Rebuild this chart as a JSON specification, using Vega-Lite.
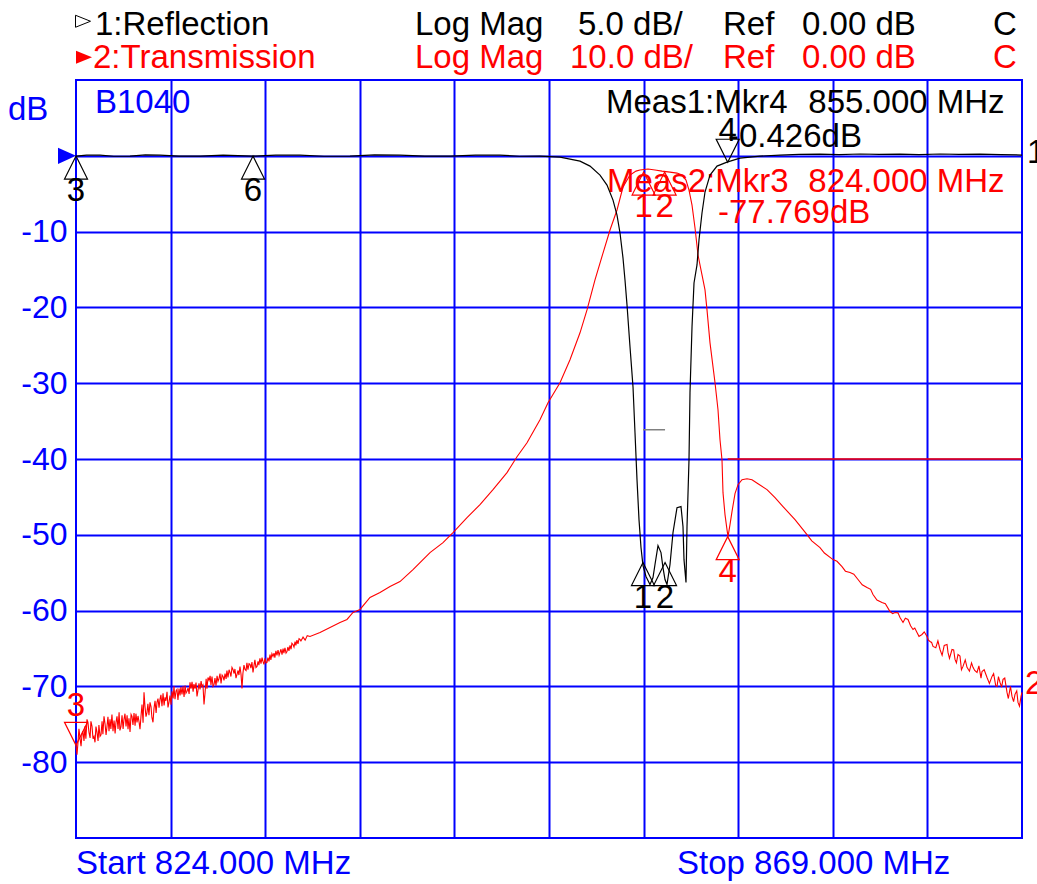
{
  "$schema": "https://vega.github.io/schema/vega-lite/v6.json",
  "width": 946,
  "height": 758,
  "autosize": {"type": "none"},
  "padding": {"left": 76, "top": 80, "right": 15, "bottom": 46},
  "background": "white",
  "config": {
    "view": {"stroke": "#0000ff", "strokeWidth": 2},
    "text": {"font": "Liberation Sans", "fontSize": 33},
    "axis": {"labelFont": "Liberation Sans"}
  },
  "datasets": {
    "reflection": [
      {"f": 824.000, "db": -0.02}, {"f": 824.5, "db": 0.04}, {"f": 825.142, "db": 0.05}, {"f": 825.8, "db": -0.03},
      {"f": 826.569, "db": -0.02}, {"f": 827.3, "db": 0.06}, {"f": 827.996, "db": 0.05}, {"f": 828.9, "db": -0.02},
      {"f": 829.899, "db": -0.02}, {"f": 831.0, "db": 0.04}, {"f": 832.420, "db": -0.02}, {"f": 833.5, "db": 0.05},
      {"f": 834.655, "db": 0.05}, {"f": 835.8, "db": -0.03}, {"f": 837.034, "db": -0.02}, {"f": 838.2, "db": 0.06},
      {"f": 839.412, "db": 0.05}, {"f": 840.6, "db": -0.02}, {"f": 841.791, "db": -0.02}, {"f": 843.0, "db": 0.04},
      {"f": 844.169, "db": 0.05}, {"f": 845.1, "db": -0.03}, {"f": 846.072, "db": -0.02}, {"f": 847.023, "db": -0.09},
      {"f": 847.975, "db": -0.35}, {"f": 848.450, "db": -0.68}, {"f": 848.926, "db": -1.27}, {"f": 849.259, "db": -1.93},
      {"f": 849.545, "db": -2.92}, {"f": 849.735, "db": -3.91}, {"f": 849.878, "db": -5.09}, {"f": 850.020, "db": -6.74},
      {"f": 850.115, "db": -8.19}, {"f": 850.210, "db": -9.83}, {"f": 850.353, "db": -12.60}, {"f": 850.496, "db": -15.24},
      {"f": 850.591, "db": -18.27}, {"f": 850.686, "db": -21.36}, {"f": 850.781, "db": -24.00}, {"f": 850.876, "db": -25.84},
      {"f": 850.971, "db": -27.03}, {"f": 851.114, "db": -27.75}, {"f": 851.304, "db": -28.28}, {"f": 851.447, "db": -27.82},
      {"f": 851.542, "db": -26.96}, {"f": 851.685, "db": -25.71}, {"f": 851.827, "db": -26.17}, {"f": 851.922, "db": -27.16},
      {"f": 852.018, "db": -27.95}, {"f": 852.113, "db": -28.28}, {"f": 852.256, "db": -26.96}, {"f": 852.399, "db": -24.85},
      {"f": 852.589, "db": -23.21}, {"f": 852.779, "db": -23.14}, {"f": 852.874, "db": -24.46}, {"f": 852.922, "db": -26.64},
      {"f": 853.017, "db": -28.15}, {"f": 853.065, "db": -24.46}, {"f": 853.160, "db": -20.05}, {"f": 853.207, "db": -15.63},
      {"f": 853.303, "db": -11.28}, {"f": 853.398, "db": -8.39}, {"f": 853.540, "db": -7.20}, {"f": 853.635, "db": -5.55},
      {"f": 853.778, "db": -3.77}, {"f": 853.921, "db": -2.39}, {"f": 854.159, "db": -1.27}, {"f": 854.492, "db": -0.68},
      {"f": 854.967, "db": -0.42}, {"f": 855.586, "db": -0.15}, {"f": 856.537, "db": -0.02}, {"f": 857.489, "db": 0.05},
      {"f": 858.4, "db": 0.09}, {"f": 859.391, "db": 0.11}, {"f": 860.3, "db": 0.08}, {"f": 861.294, "db": 0.12},
      {"f": 862.2, "db": 0.09}, {"f": 863.197, "db": 0.11}, {"f": 864.1, "db": 0.08}, {"f": 865.100, "db": 0.12},
      {"f": 866.0, "db": 0.09}, {"f": 867.002, "db": 0.11}, {"f": 868.0, "db": 0.08}, {"f": 869.000, "db": 0.05}
    ],
    "transmission": [
      {"f": 824.000, "db": -77.77}, {"f": 824.048, "db": -79.0}, {"f": 824.095, "db": -77.38}, {"f": 824.190, "db": -76.8},
      {"f": 824.285, "db": -76.32}, {"f": 824.380, "db": -77.2}, {"f": 824.428, "db": -75.27}, {"f": 824.523, "db": -74.34},
      {"f": 824.618, "db": -76.06}, {"f": 824.761, "db": -75.27}, {"f": 824.856, "db": -76.6}, {"f": 824.904, "db": -77.38},
      {"f": 824.999, "db": -76.06}, {"f": 825.142, "db": -76.59}, {"f": 825.332, "db": -73.95}, {"f": 825.475, "db": -75.27},
      {"f": 825.617, "db": -74.34}, {"f": 825.760, "db": -75.92}, {"f": 825.950, "db": -73.95}, {"f": 826.141, "db": -75.27},
      {"f": 826.283, "db": -74.34}, {"f": 826.474, "db": -75.66}, {"f": 826.664, "db": -73.95}, {"f": 826.902, "db": -74.74},
      {"f": 827.044, "db": -75.66}, {"f": 827.235, "db": -70.79}, {"f": 827.377, "db": -73.43}, {"f": 827.520, "db": -72.11},
      {"f": 827.663, "db": -74.74}, {"f": 827.853, "db": -72.11}, {"f": 827.996, "db": -71.71}, {"f": 828.234, "db": -71.44},
      {"f": 828.376, "db": -72.77}, {"f": 828.567, "db": -70.66}, {"f": 828.804, "db": -70.40}, {"f": 829.042, "db": -71.05},
      {"f": 829.280, "db": -70.66}, {"f": 829.423, "db": -69.47}, {"f": 829.756, "db": -71.32}, {"f": 829.994, "db": -70.00},
      {"f": 830.089, "db": -72.37}, {"f": 830.279, "db": -68.82}, {"f": 830.517, "db": -70.00}, {"f": 830.755, "db": -69.34},
      {"f": 830.993, "db": -68.68}, {"f": 831.326, "db": -68.16}, {"f": 831.468, "db": -67.76}, {"f": 831.659, "db": -68.42},
      {"f": 831.896, "db": -70.26}, {"f": 832.039, "db": -67.76}, {"f": 832.277, "db": -67.10}, {"f": 832.420, "db": -68.16},
      {"f": 832.610, "db": -67.36}, {"f": 832.895, "db": -66.71}, {"f": 833.086, "db": -66.84}, {"f": 833.371, "db": -66.05},
      {"f": 833.704, "db": -65.52}, {"f": 834.037, "db": -65.39}, {"f": 834.322, "db": -64.47}, {"f": 834.655, "db": -63.8},
      {"f": 824.14, "db": -75.6}, {"f": 824.24, "db": -77.9}, {"f": 824.33, "db": -75.9}, {"f": 824.47, "db": -76.9},
      {"f": 824.57, "db": -74.8}, {"f": 824.67, "db": -76.8}, {"f": 824.71, "db": -74.6}, {"f": 824.81, "db": -76.9},
      {"f": 824.95, "db": -75.3}, {"f": 825.05, "db": -77.2}, {"f": 825.09, "db": -75.1}, {"f": 825.19, "db": -76.4},
      {"f": 825.24, "db": -74.6}, {"f": 825.28, "db": -76.3}, {"f": 825.38, "db": -74.9}, {"f": 825.43, "db": -76.4},
      {"f": 825.52, "db": -74.0}, {"f": 825.57, "db": -75.9}, {"f": 825.66, "db": -75.6}, {"f": 825.71, "db": -73.7},
      {"f": 825.81, "db": -74.5}, {"f": 825.86, "db": -76.2}, {"f": 825.90, "db": -74.8}, {"f": 826.00, "db": -75.6},
      {"f": 826.05, "db": -73.4}, {"f": 826.09, "db": -75.8}, {"f": 826.19, "db": -73.8}, {"f": 826.24, "db": -75.6},
      {"f": 826.33, "db": -73.6}, {"f": 826.38, "db": -75.3}, {"f": 826.43, "db": -73.8}, {"f": 826.52, "db": -74.2},
      {"f": 826.57, "db": -76.0}, {"f": 826.62, "db": -73.7}, {"f": 826.71, "db": -75.1}, {"f": 826.76, "db": -73.5},
      {"f": 826.81, "db": -75.2}, {"f": 826.85, "db": -73.6}, {"f": 826.95, "db": -73.9}, {"f": 827.00, "db": -74.7},
      {"f": 827.09, "db": -74.0}, {"f": 827.14, "db": -72.4}, {"f": 827.19, "db": -74.8}, {"f": 827.28, "db": -72.6},
      {"f": 827.33, "db": -74.0}, {"f": 827.42, "db": -72.3}, {"f": 827.47, "db": -73.8}, {"f": 827.57, "db": -72.7},
      {"f": 827.61, "db": -74.1}, {"f": 827.71, "db": -72.9}, {"f": 827.76, "db": -71.9}, {"f": 827.81, "db": -73.5},
      {"f": 827.90, "db": -71.6}, {"f": 827.95, "db": -72.8}, {"f": 828.04, "db": -71.1}, {"f": 828.09, "db": -72.6},
      {"f": 828.14, "db": -70.9}, {"f": 828.19, "db": -72.5}, {"f": 828.28, "db": -71.9}, {"f": 828.33, "db": -70.7},
      {"f": 828.43, "db": -72.0}, {"f": 828.47, "db": -71.2}, {"f": 828.52, "db": -72.4}, {"f": 828.62, "db": -71.6},
      {"f": 828.66, "db": -70.0}, {"f": 828.71, "db": -71.7}, {"f": 828.76, "db": -70.6}, {"f": 828.85, "db": -71.8},
      {"f": 828.90, "db": -70.3}, {"f": 828.95, "db": -71.2}, {"f": 828.99, "db": -70.1}, {"f": 829.09, "db": -70.0},
      {"f": 829.14, "db": -71.4}, {"f": 829.19, "db": -69.9}, {"f": 829.23, "db": -70.9}, {"f": 829.33, "db": -70.2},
      {"f": 829.38, "db": -71.0}, {"f": 829.47, "db": -70.3}, {"f": 829.52, "db": -69.4}, {"f": 829.57, "db": -70.7},
      {"f": 829.61, "db": -69.7}, {"f": 829.66, "db": -70.3}, {"f": 829.71, "db": -69.5}, {"f": 829.80, "db": -70.6},
      {"f": 829.85, "db": -69.6}, {"f": 829.90, "db": -70.4}, {"f": 829.95, "db": -69.3}, {"f": 830.04, "db": -69.8},
      {"f": 830.14, "db": -70.8}, {"f": 830.19, "db": -69.0}, {"f": 830.23, "db": -70.3}, {"f": 830.33, "db": -69.2},
      {"f": 830.38, "db": -68.6}, {"f": 830.42, "db": -69.8}, {"f": 830.47, "db": -68.7}, {"f": 830.57, "db": -69.7},
      {"f": 830.61, "db": -68.9}, {"f": 830.66, "db": -69.9}, {"f": 830.71, "db": -68.6}, {"f": 830.80, "db": -69.0},
      {"f": 830.85, "db": -68.3}, {"f": 830.90, "db": -69.6}, {"f": 830.95, "db": -68.5}, {"f": 831.04, "db": -69.2},
      {"f": 831.09, "db": -68.3}, {"f": 831.14, "db": -69.0}, {"f": 831.18, "db": -67.9}, {"f": 831.23, "db": -68.8},
      {"f": 831.28, "db": -67.8}, {"f": 831.37, "db": -68.7}, {"f": 831.42, "db": -67.5}, {"f": 831.52, "db": -68.3},
      {"f": 831.56, "db": -67.7}, {"f": 831.61, "db": -68.9}, {"f": 831.71, "db": -67.9}, {"f": 831.75, "db": -68.5},
      {"f": 831.80, "db": -67.4}, {"f": 831.85, "db": -68.4}, {"f": 831.94, "db": -68.3}, {"f": 831.99, "db": -67.2},
      {"f": 832.09, "db": -67.9}, {"f": 832.13, "db": -66.9}, {"f": 832.18, "db": -67.8}, {"f": 832.23, "db": -67.0},
      {"f": 832.32, "db": -67.6}, {"f": 832.37, "db": -66.8}, {"f": 832.47, "db": -67.2}, {"f": 832.51, "db": -66.5},
      {"f": 832.56, "db": -67.5}, {"f": 832.66, "db": -66.7}, {"f": 832.70, "db": -67.2}, {"f": 832.75, "db": -66.3},
      {"f": 832.80, "db": -67.0}, {"f": 832.85, "db": -66.2}, {"f": 832.94, "db": -67.1}, {"f": 832.99, "db": -66.3},
      {"f": 833.04, "db": -66.9}, {"f": 833.13, "db": -66.2}, {"f": 833.18, "db": -66.7}, {"f": 833.23, "db": -65.8},
      {"f": 833.27, "db": -66.5}, {"f": 833.32, "db": -65.7}, {"f": 833.42, "db": -65.6}, {"f": 833.46, "db": -66.2},
      {"f": 833.51, "db": -65.3}, {"f": 833.56, "db": -65.9}, {"f": 833.61, "db": -65.2}, {"f": 833.66, "db": -65.9},
      {"f": 833.75, "db": -65.1}, {"f": 833.80, "db": -65.8}, {"f": 833.85, "db": -65.0}, {"f": 833.89, "db": -65.6},
      {"f": 833.94, "db": -64.9}, {"f": 833.99, "db": -65.6}, {"f": 834.08, "db": -64.8}, {"f": 834.13, "db": -65.3},
      {"f": 834.18, "db": -64.6}, {"f": 834.23, "db": -65.1}, {"f": 834.27, "db": -64.3}, {"f": 834.37, "db": -64.8},
      {"f": 834.42, "db": -64.1}, {"f": 834.46, "db": -64.6}, {"f": 834.51, "db": -63.9}, {"f": 834.56, "db": -64.4},
      {"f": 834.61, "db": -63.7}, {"f": 834.70, "db": -64.0}, {"f": 834.80, "db": -63.5}, {"f": 834.90, "db": -63.9},
      {"f": 835.0, "db": -63.3},
      {"f": 835.131, "db": -63.41}, {"f": 835.607, "db": -62.89}, {"f": 836.083, "db": -62.23}, {"f": 836.558, "db": -61.57},
      {"f": 836.891, "db": -61.17}, {"f": 837.177, "db": -60.25}, {"f": 837.510, "db": -59.85}, {"f": 837.985, "db": -58.27},
      {"f": 838.461, "db": -57.61}, {"f": 838.937, "db": -56.82}, {"f": 839.412, "db": -56.17}, {"f": 840.031, "db": -54.59},
      {"f": 840.839, "db": -52.35}, {"f": 841.458, "db": -51.03}, {"f": 841.934, "db": -49.71}, {"f": 842.600, "db": -47.73},
      {"f": 843.218, "db": -46.02}, {"f": 843.836, "db": -44.04}, {"f": 844.502, "db": -41.80}, {"f": 844.978, "db": -39.70},
      {"f": 845.454, "db": -37.85}, {"f": 846.072, "db": -34.82}, {"f": 846.453, "db": -32.58}, {"f": 847.023, "db": -29.94},
      {"f": 847.499, "db": -26.91}, {"f": 847.975, "db": -23.35}, {"f": 848.308, "db": -20.33}, {"f": 848.688, "db": -16.38},
      {"f": 849.069, "db": -12.83}, {"f": 849.402, "db": -9.79}, {"f": 849.735, "db": -7.15}, {"f": 850.020, "db": -4.12},
      {"f": 850.353, "db": -2.54}, {"f": 850.639, "db": -2.02}, {"f": 850.829, "db": -1.88}, {"f": 851.209, "db": -1.75},
      {"f": 851.542, "db": -1.88}, {"f": 851.875, "db": -2.02}, {"f": 852.256, "db": -2.15}, {"f": 852.589, "db": -2.28},
      {"f": 852.827, "db": -2.54}, {"f": 853.017, "db": -3.20}, {"f": 853.160, "db": -4.52}, {"f": 853.303, "db": -6.50},
      {"f": 853.446, "db": -9.53}, {"f": 853.588, "db": -13.09}, {"f": 853.778, "db": -15.72}, {"f": 853.921, "db": -17.69},
      {"f": 854.016, "db": -20.33}, {"f": 854.159, "db": -24.68}, {"f": 854.397, "db": -29.94}, {"f": 854.539, "db": -33.50},
      {"f": 854.634, "db": -37.46}, {"f": 854.729, "db": -40.09}, {"f": 854.777, "db": -44.44}, {"f": 854.872, "db": -47.34},
      {"f": 854.967, "db": -49.31}, {"f": 855.015, "db": -50.24}, {"f": 855.110, "db": -48.66}, {"f": 855.205, "db": -46.94},
      {"f": 855.348, "db": -44.57}, {"f": 855.491, "db": -43.39}, {"f": 855.681, "db": -42.73}, {"f": 855.919, "db": -42.60},
      {"f": 856.157, "db": -42.73}, {"f": 856.442, "db": -43.26}, {"f": 856.870, "db": -44.04}, {"f": 857.251, "db": -45.10},
      {"f": 857.631, "db": -46.28}, {"f": 858.202, "db": -48.00}, {"f": 858.773, "db": -49.97}, {"f": 859.391, "db": -51.69},
      {"f": 860.010, "db": -53.27}, {"f": 860.438, "db": -54.19}, {"f": 860.818, "db": -54.98}, {"f": 861.199, "db": -55.90},
      {"f": 861.627, "db": -56.96}, {"f": 861.912, "db": -57.88}, {"f": 862.340, "db": -58.93}, {"f": 862.721, "db": -60.12},
      {"f": 862.959, "db": -60.25}, {"f": 863.197, "db": -60.91}, {"f": 863.340, "db": -61.57}, {"f": 863.577, "db": -61.17},
      {"f": 863.815, "db": -62.49}, {"f": 864.005, "db": -62.89}, {"f": 864.243, "db": -63.15}, {"f": 864.481, "db": -63.41},
      {"f": 864.624, "db": -64.07}, {"f": 864.767, "db": -64.73}, {"f": 865.100, "db": -65.13}, {"f": 865.433, "db": -64.47},
      {"f": 865.480, "db": -65.52}, {"f": 865.670, "db": -65.13}, {"f": 865.813, "db": -66.44}, {"f": 865.956, "db": -65.78},
      {"f": 866.194, "db": -67.36}, {"f": 866.384, "db": -67.49}, {"f": 866.669, "db": -67.49}, {"f": 866.860, "db": -68.16},
      {"f": 867.098, "db": -68.03}, {"f": 867.336, "db": -68.82}, {"f": 867.574, "db": -68.68}, {"f": 867.811, "db": -70.00},
      {"f": 867.954, "db": -69.47}, {"f": 868.097, "db": -69.08}, {"f": 868.287, "db": -70.79}, {"f": 868.525, "db": -71.32},
      {"f": 868.667, "db": -71.05}, {"f": 868.810, "db": -72.11}, {"f": 868.953, "db": -71.32},
      {"f": 859.0, "db": -50.8}, {"f": 859.6, "db": -52.4}, {"f": 860.2, "db": -53.5}, {"f": 860.6, "db": -54.8},
      {"f": 861.0, "db": -55.2}, {"f": 861.4, "db": -56.6}, {"f": 861.8, "db": -57.2}, {"f": 862.1, "db": -58.6},
      {"f": 862.5, "db": -59.1}, {"f": 862.85, "db": -60.4}, {"f": 863.1, "db": -60.3}, {"f": 863.45, "db": -61.0},
      {"f": 863.7, "db": -62.0}, {"f": 863.9, "db": -62.3}, {"f": 864.1, "db": -63.4}, {"f": 864.35, "db": -62.8},
      {"f": 864.55, "db": -63.9}, {"f": 864.7, "db": -64.2}, {"f": 864.9, "db": -64.9}, {"f": 865.0, "db": -64.0},
      {"f": 865.2, "db": -65.9}, {"f": 865.3, "db": -64.6}, {"f": 865.55, "db": -66.3}, {"f": 865.75, "db": -65.2},
      {"f": 865.88, "db": -66.9}, {"f": 866.05, "db": -66.0}, {"f": 866.12, "db": -67.8}, {"f": 866.3, "db": -66.5},
      {"f": 866.5, "db": -68.0}, {"f": 866.6, "db": -66.9}, {"f": 866.75, "db": -67.9}, {"f": 866.95, "db": -67.3},
      {"f": 867.05, "db": -68.9}, {"f": 867.2, "db": -67.8}, {"f": 867.45, "db": -69.6}, {"f": 867.65, "db": -68.3},
      {"f": 867.75, "db": -69.9}, {"f": 867.88, "db": -68.7}, {"f": 868.03, "db": -70.1}, {"f": 868.18, "db": -68.9},
      {"f": 868.35, "db": -71.6}, {"f": 868.45, "db": -70.0}, {"f": 868.6, "db": -72.0}, {"f": 868.75, "db": -70.6},
      {"f": 868.88, "db": -72.6}, {"f": 869.0, "db": -70.8}
    ],
    "markers": [
      {"ch": "Reflection", "id": "3", "f": 824.0, "db": -0.02, "dir": "up"},
      {"ch": "Reflection", "id": "6", "f": 832.42, "db": -0.02, "dir": "up"},
      {"ch": "Reflection", "id": "1", "f": 850.97, "db": -26.83, "dir": "up"},
      {"ch": "Reflection", "id": "2", "f": 852.02, "db": -26.83, "dir": "up"},
      {"ch": "Reflection", "id": "4", "f": 855.0, "db": -0.426, "dir": "down"},
      {"ch": "Transmission", "id": "3", "f": 824.0, "db": -77.769, "dir": "down"},
      {"ch": "Transmission", "id": "1", "f": 851.0, "db": -2.15, "dir": "up"},
      {"ch": "Transmission", "id": "2", "f": 852.0, "db": -2.15, "dir": "up"},
      {"ch": "Transmission", "id": "4", "f": 855.0, "db": -50.24, "dir": "up"}
    ],
    "notes": [
      {"text": "1:Reflection", "f": 824.904, "db": 15.9, "ch": "Reflection"},
      {"text": "Log Mag", "f": 840.126, "db": 15.9, "ch": "Reflection"},
      {"text": "5.0 dB/", "f": 847.88, "db": 15.9, "ch": "Reflection"},
      {"text": "Ref", "f": 854.777, "db": 15.9, "ch": "Reflection"},
      {"text": "0.00 dB", "f": 858.535, "db": 15.9, "ch": "Reflection"},
      {"text": "C", "f": 867.62, "db": 15.9, "ch": "Reflection"},
      {"text": "2:Transmission", "f": 824.809, "db": 11.55, "ch": "Transmission"},
      {"text": "Log Mag", "f": 840.126, "db": 11.55, "ch": "Transmission"},
      {"text": "10.0 dB/", "f": 847.499, "db": 11.55, "ch": "Transmission"},
      {"text": "Ref", "f": 854.777, "db": 11.55, "ch": "Transmission"},
      {"text": "0.00 dB", "f": 858.535, "db": 11.55, "ch": "Transmission"},
      {"text": "C", "f": 867.62, "db": 11.55, "ch": "Transmission"},
      {"text": "B1040", "f": 824.904, "db": 5.61, "ch": "Display"},
      {"text": "dB", "f": 820.765, "db": 4.7, "ch": "Display"},
      {"text": "Meas1:Mkr4", "f": 849.212, "db": 5.67, "ch": "Reflection"},
      {"text": "855.000 MHz", "f": 858.835, "db": 5.67, "ch": "Reflection"},
      {"text": "-0.426dB", "f": 855.015, "db": 1.15, "ch": "Reflection"},
      {"text": "Meas2:Mkr3", "f": 849.26, "db": -4.74, "ch": "Transmission"},
      {"text": "824.000 MHz", "f": 858.835, "db": -4.74, "ch": "Transmission"},
      {"text": "-77.769dB", "f": 854.539, "db": -8.87, "ch": "Transmission"},
      {"text": "1", "f": 869.24, "db": -0.96, "ch": "Reflection"},
      {"text": "2", "f": 869.143, "db": -71.05, "ch": "Transmission"},
      {"text": "Start 824.000 MHz", "f": 824.0, "db": -94.78, "ch": "Display"},
      {"text": "Stop 869.000 MHz", "f": 852.589, "db": -94.78, "ch": "Display"}
    ]
  },
  "resolve": {"scale": {"y": "independent"}},
  "layer": [
    {
      "layer": [
        {
          "data": {"name": "transmission"},
          "mark": {"type": "line", "color": "#ff0000", "strokeWidth": 1.1},
          "encoding": {
            "x": {
              "field": "f", "type": "quantitative",
              "scale": {"domain": [824, 869], "nice": false, "zero": false},
              "axis": {"values": [828.5, 833, 837.5, 842, 846.5, 851, 855.5, 860, 864.5], "grid": true, "gridColor": "#0000ff", "gridWidth": 2, "labels": false, "ticks": false, "domain": false, "title": null}
            },
            "y": {
              "field": "db", "type": "quantitative",
              "scale": {"domain": [-90, 10], "nice": false, "zero": false},
              "axis": {"values": [-80, -70, -60, -50, -40, -30, -20, -10, 0], "grid": true, "gridColor": "#0000ff", "gridWidth": 2, "labelExpr": "datum.value === 0 ? '' : '' + datum.value", "labelFontSize": 32, "labelColor": "#0000ff", "labelPadding": 9, "ticks": false, "tickSize": 0, "domain": false, "title": null, "labelOverlap": false}
            }
          }
        },
        {
          "data": {"values": [{"f": 855.0, "db": -40}, {"f": 869.0, "db": -40}]},
          "mark": {"type": "line", "color": "#ff0000", "strokeWidth": 1.5},
          "encoding": {"x": {"field": "f", "type": "quantitative"}, "y": {"field": "db", "type": "quantitative"}}
        },
        {
          "data": {"name": "markers"},
          "transform": [{"filter": "datum.ch === 'Transmission'"}],
          "mark": {"type": "point", "filled": false, "color": "#ff0000", "strokeWidth": 1.2, "size": 529, "opacity": 1},
          "encoding": {
            "x": {"field": "f", "type": "quantitative"},
            "y": {"field": "db", "type": "quantitative"},
            "shape": {"field": "dir", "type": "nominal", "scale": {"domain": ["up", "down"], "range": ["M0,0L1,2L-1,2Z", "M0,0L1,-2L-1,-2Z"]}, "legend": null}
          }
        },
        {
          "data": {"name": "markers"},
          "transform": [{"filter": "datum.ch === 'Transmission' && datum.dir === 'up'"}],
          "mark": {"type": "text", "color": "#ff0000", "align": "center", "baseline": "middle", "dy": 35},
          "encoding": {"x": {"field": "f", "type": "quantitative"}, "y": {"field": "db", "type": "quantitative"}, "text": {"field": "id"}}
        },
        {
          "data": {"name": "markers"},
          "transform": [{"filter": "datum.ch === 'Transmission' && datum.dir === 'down'"}],
          "mark": {"type": "text", "color": "#ff0000", "align": "center", "baseline": "middle", "dy": -39},
          "encoding": {"x": {"field": "f", "type": "quantitative"}, "y": {"field": "db", "type": "quantitative"}, "text": {"field": "id"}}
        },
        {
          "data": {"name": "notes"},
          "mark": {"type": "text", "align": "left", "baseline": "alphabetic"},
          "encoding": {
            "x": {"field": "f", "type": "quantitative"},
            "y": {"field": "db", "type": "quantitative"},
            "text": {"field": "text"},
            "color": {"field": "ch", "type": "nominal", "scale": {"domain": ["Reflection", "Transmission", "Display"], "range": ["#000000", "#ff0000", "#0000ff"]}, "legend": null}
          }
        },
        {
          "data": {"values": [{"f": 824.333, "db": 17.75}]},
          "mark": {"type": "point", "shape": "M-1,-0.8L1,0L-1,0.8Z", "size": 225, "filled": false, "color": "#000000", "strokeWidth": 1, "opacity": 1},
          "encoding": {"x": {"field": "f", "type": "quantitative"}, "y": {"field": "db", "type": "quantitative"}}
        },
        {
          "data": {"values": [{"f": 824.38, "db": 13.0}]},
          "mark": {"type": "point", "shape": "M-1,-0.8L1,0L-1,0.8Z", "size": 256, "filled": true, "color": "#ff0000", "opacity": 1},
          "encoding": {"x": {"field": "f", "type": "quantitative"}, "y": {"field": "db", "type": "quantitative"}}
        },
        {
          "data": {"values": [{"f": 824.0, "db": 0}]},
          "mark": {"type": "point", "shape": "M0,0L-2,-0.9L-2,0.9Z", "size": 324, "filled": true, "color": "#0000ff", "opacity": 1},
          "encoding": {"x": {"field": "f", "type": "quantitative"}, "y": {"field": "db", "type": "quantitative"}}
        }
      ]
    },
    {
      "layer": [
        {
          "data": {"name": "reflection"},
          "mark": {"type": "line", "color": "#000000", "strokeWidth": 1.2},
          "encoding": {
            "x": {"field": "f", "type": "quantitative"},
            "y": {"field": "db", "type": "quantitative", "scale": {"domain": [-45, 5], "nice": false, "zero": false}, "axis": null}
          }
        },
        {
          "data": {"values": [{"f": 850.97, "db": -18.07}, {"f": 852.02, "db": -18.07}]},
          "mark": {"type": "line", "color": "#808080", "strokeWidth": 1.5},
          "encoding": {"x": {"field": "f", "type": "quantitative"}, "y": {"field": "db", "type": "quantitative"}}
        },
        {
          "data": {"name": "markers"},
          "transform": [{"filter": "datum.ch === 'Reflection'"}],
          "mark": {"type": "point", "filled": false, "color": "#000000", "strokeWidth": 1.2, "size": 529, "opacity": 1},
          "encoding": {
            "x": {"field": "f", "type": "quantitative"},
            "y": {"field": "db", "type": "quantitative"},
            "shape": {"field": "dir", "type": "nominal", "scale": {"domain": ["up", "down"], "range": ["M0,0L1,2L-1,2Z", "M0,0L1,-2L-1,-2Z"]}, "legend": null}
          }
        },
        {
          "data": {"name": "markers"},
          "transform": [{"filter": "datum.ch === 'Reflection' && datum.dir === 'up'"}],
          "mark": {"type": "text", "color": "#000000", "align": "center", "baseline": "middle", "dy": 35},
          "encoding": {"x": {"field": "f", "type": "quantitative"}, "y": {"field": "db", "type": "quantitative"}, "text": {"field": "id"}}
        },
        {
          "data": {"name": "markers"},
          "transform": [{"filter": "datum.ch === 'Reflection' && datum.dir === 'down'"}],
          "mark": {"type": "text", "color": "#000000", "align": "center", "baseline": "middle", "dy": -31},
          "encoding": {"x": {"field": "f", "type": "quantitative"}, "y": {"field": "db", "type": "quantitative"}, "text": {"field": "id"}}
        }
      ]
    }
  ]
}
